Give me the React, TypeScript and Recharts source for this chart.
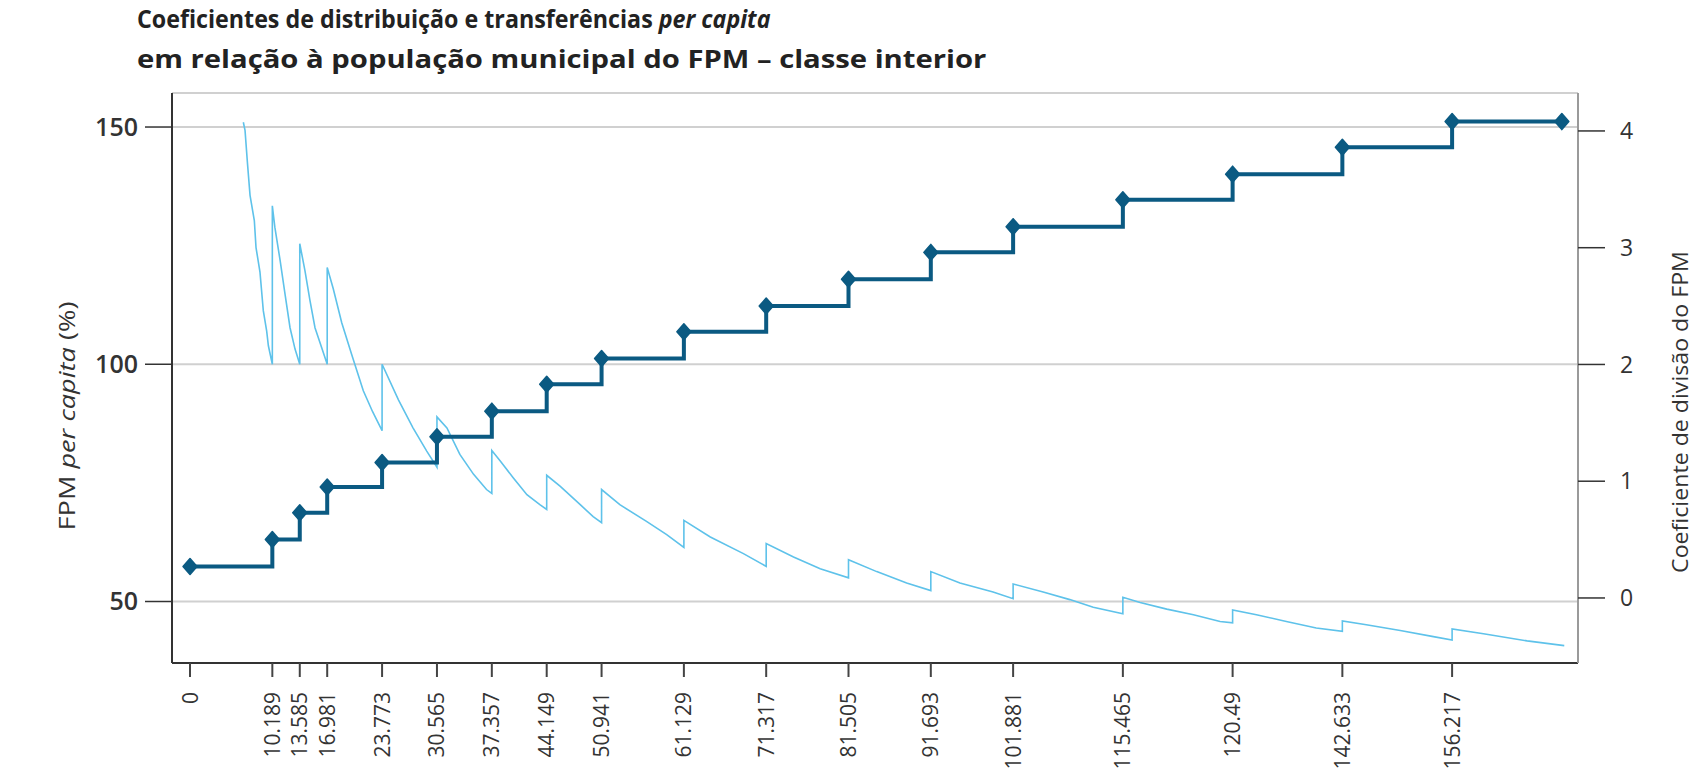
import React, { useLayoutEffect, useRef, useState } from 'react';
import { CartesianGrid, Line, LineChart, XAxis, YAxis } from 'recharts';

// population thresholds of the FPM classes (thousands)
const classBreaks = [
  0, 10.189, 13.585, 16.981, 23.773, 30.565, 37.357, 44.149, 50.941, 61.129, 71.317, 81.505, 91.693,
  101.881, 115.465, 129.049, 142.633, 156.217,
];
const breakLabels = [
  '0', '10.189', '13.585', '16.981', '23.773', '30.565', '37.357', '44.149', '50.941', '61.129', '71.317',
  '81.505', '91.693', '101.881', '115.465', '120.49', '142.633', '156.217',
];

// coefficient step line (right axis)
const coefPopulation = [...classBreaks, 169.8];
const coefValues = [
  0.27, 0.5, 0.73, 0.95, 1.16, 1.38, 1.6, 1.83, 2.05, 2.28, 2.5, 2.73, 2.96, 3.18, 3.41, 3.63, 3.86, 4.08, 4.08,
];

// FPM per capita (left axis)
const perCapitaPopulation = [
  6.6, 6.81, 7.1, 7.43, 7.96, 8.17, 8.66, 9.07, 9.49, 9.7, 10.189,
  10.189, 10.5, 11.16, 11.76, 12.38, 13.0, 13.585,
  13.585, 14.23, 14.85, 15.47, 16.3, 16.981,
  16.981, 17.73, 18.77, 20.0, 21.45, 22.6, 23.773,
  23.773, 25.8, 27.6, 29.3, 30.565,
  30.565, 31.8, 33.4, 35.1, 36.7, 37.357,
  37.357, 38.4, 40.0, 41.7, 43.3, 44.149,
  44.149, 45.8, 48.3, 49.9, 50.941,
  50.941, 53.2, 56.5, 59.0, 61.129,
  61.129, 64.4, 68.5, 71.317,
  71.317, 74.7, 78.0, 81.505,
  81.505, 85.0, 88.7, 91.693,
  91.693, 95.3, 99.4, 101.881,
  101.881, 105.6, 108.9, 111.8, 115.465,
  115.465, 117.6, 120.9, 124.2, 127.5, 129.049,
  129.049, 132.0, 135.7, 139.4, 142.633,
  142.633, 145.6, 149.8, 153.9, 156.217,
  156.217, 160.1, 165.5, 170.1,
];
const perCapitaValues = [
  151, 149.3, 142.6, 135.6, 130.3, 124.6, 119.4, 111.3, 107, 103.9, 100,
  133.4, 128.9, 121.8, 114.8, 107.7, 103.2, 100,
  125.4, 119.7, 113.4, 107.7, 103.5, 100,
  120.4, 115.9, 108.8, 102.1, 94.4, 90.0, 86.0,
  100, 92.5, 86.6, 81.7, 78.3,
  88.9, 86.6, 81.0, 76.8, 73.6, 72.8,
  81.8, 79.6, 76.1, 72.5, 70.4, 69.4,
  76.6, 74.3, 70.4, 67.9, 66.6,
  73.6, 70.4, 66.9, 64.1, 61.4,
  67.1, 63.6, 60.1, 57.4,
  62.2, 59.4, 56.9, 55.0,
  58.8, 56.3, 53.9, 52.3,
  56.3, 53.9, 52.0, 50.6,
  53.7, 52.0, 50.4, 48.8, 47.4,
  50.9, 49.8, 48.4, 47.2, 45.8, 45.5,
  48.2, 47.2, 45.8, 44.4, 43.7,
  45.9, 45.1, 43.9, 42.6, 41.9,
  44.2, 43.2, 41.7, 40.7,
];

const leftTicks = [50, 100, 150];
const rightTicks = [0, 1, 2, 3, 4];

const coefData = coefPopulation.map((x, i) => ({ x, coef: coefValues[i] }));
const perCapitaData = perCapitaPopulation.map((x, i) => ({ x, perCapita: perCapitaValues[i] }));

const FONT = '"Open Sans", "Noto Sans", sans-serif';
const DARK = '#0b5a82';
const LIGHT = '#5ec2ea';
const X_DOMAIN: [number, number] = [-2.23, 171.8];

// squeezes a text horizontally to the wanted width (condensed look of the original)
function FitText({ x, y, width, rotate = 0, children, ...rest }: any) {
  const ref = useRef<SVGTextElement>(null);
  const [sx, setSx] = useState(1);
  useLayoutEffect(() => {
    if (!ref.current) return;
    const w = ref.current.getComputedTextLength();
    if (w > 0) setSx(width / w);
  }, [width]);
  return (
    <g transform={`translate(${x},${y}) rotate(${rotate}) scale(${sx},1)`}>
      <text ref={ref} x={0} y={0} {...rest}>
        {children}
      </text>
    </g>
  );
}

function PopulationTick({ x, y, payload }: any) {
  const i = classBreaks.indexOf(payload.value);
  const label = i >= 0 ? breakLabels[i] : String(payload.value);
  return (
    <g transform={`translate(${x + 7.5},${y}) rotate(-90)`}>
      <text textAnchor="end" fontFamily={FONT} fontSize={21} fill="#333">
        {label}
      </text>
    </g>
  );
}

function DiamondDot({ cx, cy }: any) {
  if (cx == null || cy == null) return null;
  return (
    <polygon
      points={`${cx},${cy - 8} ${cx + 7},${cy} ${cx},${cy + 8} ${cx - 7},${cy}`}
      fill={DARK}
      stroke={DARK}
      strokeWidth={1.5}
      strokeLinejoin="round"
    />
  );
}

export default function App() {
  return (
    <div style={{ position: 'absolute', left: 0, top: 0, width: 1696, height: 782, background: '#fff' }}>
      <LineChart width={1696} height={782} margin={{ top: 93, right: 58, bottom: 59, left: 72 }}>
        <CartesianGrid vertical={false} yAxisId="left" stroke="#d0d0d0" strokeWidth={2} />
        <XAxis
          dataKey="x"
          type="number"
          domain={X_DOMAIN}
          allowDataOverflow
          ticks={classBreaks}
          interval={0}
          height={60}
          tick={<PopulationTick />}
          tickSize={14}
          tickMargin={15}
          axisLine={{ stroke: '#333', strokeWidth: 2 }}
          tickLine={{ stroke: '#444', strokeWidth: 2 }}
        />
        <XAxis
          xAxisId="top"
          orientation="top"
          dataKey="x"
          type="number"
          domain={X_DOMAIN}
          allowDataOverflow
          height={0}
          tick={false}
          tickLine={false}
          axisLine={{ stroke: '#d8d8d8', strokeWidth: 2 }}
        />
        <YAxis
          yAxisId="left"
          type="number"
          domain={[37.04, 157.17]}
          allowDataOverflow
          ticks={leftTicks}
          width={100}
          tickSize={27}
          tickMargin={7}
          axisLine={{ stroke: '#333', strokeWidth: 2 }}
          tickLine={{ stroke: '#333', strokeWidth: 1.5 }}
          tick={{ fontFamily: FONT, fontSize: 25, fontWeight: 600, fill: '#333' }}
        />
        <YAxis
          yAxisId="right"
          orientation="right"
          type="number"
          domain={[-0.557, 4.325]}
          allowDataOverflow
          ticks={rightTicks}
          width={60}
          tickSize={27}
          tickMargin={15}
          axisLine={{ stroke: '#9a9a9a', strokeWidth: 2 }}
          tickLine={{ stroke: '#333', strokeWidth: 1.5 }}
          tick={{ fontFamily: FONT, fontSize: 23, fontWeight: 500, fill: '#333' }}
        />
        <Line
          yAxisId="left"
          data={perCapitaData}
          dataKey="perCapita"
          type="linear"
          stroke={LIGHT}
          strokeWidth={1.6}
          dot={false}
          activeDot={false}
          isAnimationActive={false}
        />
        <Line
          yAxisId="right"
          data={coefData}
          dataKey="coef"
          type="stepAfter"
          stroke={DARK}
          strokeWidth={4}
          dot={<DiamondDot />}
          activeDot={false}
          isAnimationActive={false}
        />
      </LineChart>
      <svg
        width={1696}
        height={782}
        style={{ position: 'absolute', left: 0, top: 0, pointerEvents: 'none' }}
        fontFamily={FONT}
      >
        <FitText x={137} y={28} width={634} fontSize={25} fontWeight={700} fill="#222">
          Coeficientes de distribuição e transferências <tspan fontStyle="italic">per capita</tspan>
        </FitText>
        <FitText x={137} y={68} width={850} fontSize={25} fontWeight={700} fill="#222">
          em relação à população municipal do FPM – classe interior
        </FitText>
        <FitText x={75} y={416} rotate={-90} width={229} textAnchor="middle" fontSize={22} fill="#333">
          FPM <tspan fontStyle="italic">per capita</tspan> (%)
        </FitText>
        <FitText x={1688} y={412} rotate={-90} width={322} textAnchor="middle" fontSize={22} fill="#333">
          Coeficiente de divisão do FPM
        </FitText>
      </svg>
    </div>
  );
}
